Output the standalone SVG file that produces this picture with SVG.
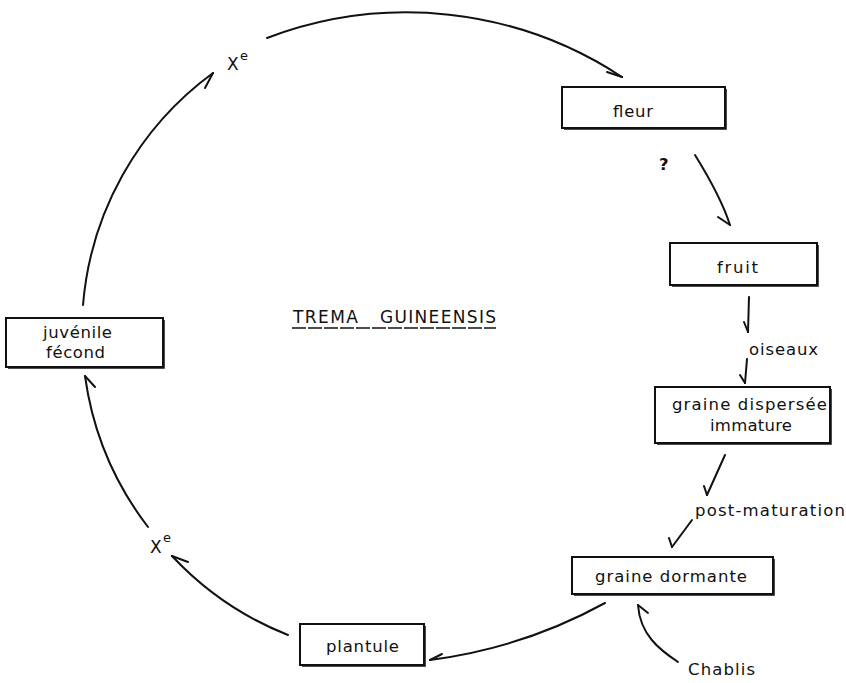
<svg xmlns="http://www.w3.org/2000/svg" width="846" height="683" viewBox="0 0 846 683">
<style>
.box{fill:#fff;stroke:#111;stroke-width:2}
.sh{fill:none;stroke:#111;stroke-width:1.5}
.ln{fill:none;stroke:#111;stroke-width:2;stroke-linecap:round;stroke-linejoin:round}
.t{font-family:"DejaVu Sans",sans-serif;font-size:16.5px;fill:#111}
.x{font-family:"DejaVu Sans",sans-serif;font-size:17px;fill:#111}
</style>
<rect width="846" height="683" fill="#fff"/>
<g id="connectors">
  <path class="ln" d="M267,38 A392,392 0 0 1 622,77"/>
  <path class="ln" d="M607,72 L622,77"/>
  <path class="ln" d="M695,155 Q721,197 730,225"/>
  <path class="ln" d="M718,217 L730,225"/>
  <path class="ln" d="M749,297 L748,332"/>
  <path class="ln" d="M744,322 L748,332"/>
  <path class="ln" d="M747,359 L745,383"/>
  <path class="ln" d="M740,375 L745,383"/>
  <path class="ln" d="M725,455 L707,495"/>
  <path class="ln" d="M704,486 L707,495"/>
  <path class="ln" d="M692,520 L672,547"/>
  <path class="ln" d="M669,538 L672,547"/>
  <path class="ln" d="M605,603 Q523,648 430,660"/>
  <path class="ln" d="M442,654 L430,660"/>
  <path class="ln" d="M678,662 C660,650 640,635 638,605"/>
  <path class="ln" d="M648,613 L638,605"/>
  <path class="ln" d="M288,635 A320,320 0 0 1 172,556"/>
  <path class="ln" d="M188,562 L172,556"/>
  <path class="ln" d="M148,527 A320,320 0 0 1 85,376"/>
  <path class="ln" d="M95,387 L85,376"/>
  <path class="ln" d="M83,305 A320,320 0 0 1 213,73"/>
  <path class="ln" d="M205,88 L213,73"/>
</g>
<g id="fleur">
  <rect class="box" x="562" y="87" width="163" height="41"/>
  <path class="sh" d="M726,89 V129 H564"/>
  <text class="t" x="613" y="117" textLength="40">fleur</text>
</g>
<g id="fruit">
  <rect class="box" x="670" y="243" width="147" height="42"/>
  <path class="sh" d="M818,245 V286 H672"/>
  <text class="t" x="717" y="273" textLength="41">fruit</text>
</g>
<g id="graine-dispersee">
  <rect class="box" x="655" y="387" width="175" height="56"/>
  <path class="sh" d="M831,389 V444 H657"/>
  <text class="t" x="672" y="410" textLength="155" font-size="16">graine dispersée</text>
  <text class="t" x="710" y="431" textLength="82" font-size="16">immature</text>
</g>
<g id="graine-dormante">
  <rect class="box" x="572" y="557" width="201" height="37"/>
  <path class="sh" d="M774,559 V595 H574"/>
  <text class="t" x="595" y="582" textLength="152">graine dormante</text>
</g>
<g id="plantule">
  <rect class="box" x="300" y="624" width="124" height="41"/>
  <path class="sh" d="M425,626 V666 H302"/>
  <text class="t" x="326" y="652" textLength="73">plantule</text>
</g>
<g id="juvenile">
  <rect class="box" x="6" y="318" width="157" height="49"/>
  <path class="sh" d="M164,320 V368 H8"/>
  <text class="t" x="43" y="338" textLength="69" font-size="16">juvénile</text>
  <text class="t" x="46" y="358" textLength="59" font-size="16">fécond</text>
</g>
<g id="labels">
  <text class="t" x="749" y="355" textLength="69">oiseaux</text>
  <text class="t" x="695" y="516" textLength="150">post-maturation</text>
  <text class="t" x="688" y="675" textLength="67">Chablis</text>
  <text class="t" x="659" y="170" font-weight="bold" font-size="14">?</text>
  <text class="x" x="227" y="70">X<tspan x="240" y="60" font-size="13">e</tspan></text>
  <text class="x" x="150" y="553">X<tspan x="163" y="542" font-size="13">e</tspan></text>
  <text class="x" x="293" y="323" textLength="65">TREMA</text>
  <text class="x" x="380" y="323" textLength="116">GUINEENSIS</text>
  <path d="M292,328 H496" stroke="#111" stroke-width="1.3" stroke-dasharray="14 2"/>
</g>
</svg>
